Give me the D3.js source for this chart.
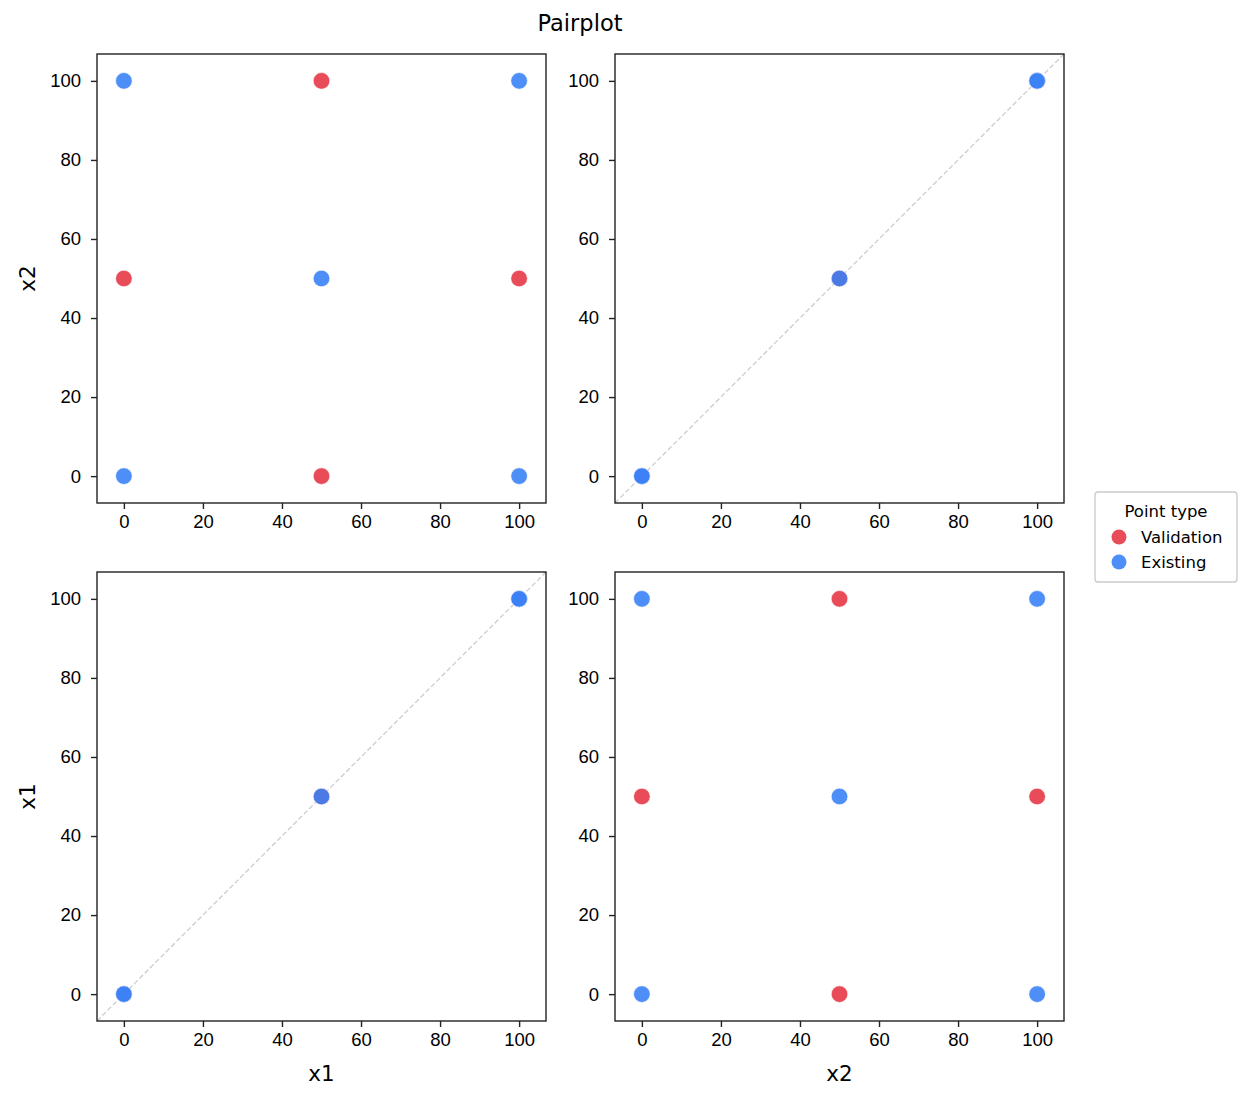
<!DOCTYPE html>
<html>
<head>
<meta charset="utf-8">
<script src="https://cdn.jsdelivr.net/npm/d3@7"></script>
<style>
body { margin: 0; background: #fff; }
svg { font-family: "DejaVu Sans", sans-serif; }
.axis text { font-size: 18.5px; fill: #000; }
.axis path, .axis line { stroke: #222; stroke-width: 1.4; }
</style>
</head>
<body>
<div id="chart"></div>
<script>
// data: the two variables of each point, split by point type
var variables = ["x1", "x2"];
var validationX1 = [50, 0, 100, 50],
    validationX2 = [100, 50, 50, 0];
var existingX1 = [0, 100, 50, 0, 100],
    existingX2 = [100, 100, 50, 0, 0];
var tickValues = [0, 20, 40, 60, 80, 100];
var types = ["Validation", "Existing"];
var colors = {Validation: "#e63946", Existing: "#3b82f6"};

// one row per point, validation first so existing points sit on top
var points = [];
validationX1.forEach(function(d, i){ points.push({x1: d, x2: validationX2[i], type: "Validation"}); });
existingX1.forEach(function(d, i){ points.push({x1: d, x2: existingX2[i], type: "Existing"}); });

var W = 1251, H = 1101;
var svg = d3.select("#chart").append("svg").attr("width", W).attr("height", H);

var cellW = 449, cellH = 449;
var colLeft = [97, 615], rowTop = [54, 572];
// rows: top row is x2, bottom row is x1 ; columns x1, x2
var rowVars = ["x2", "x1"], colVars = ["x1", "x2"];

var domain = [-6.8, 106.8];
var sx = d3.scaleLinear().domain(domain).range([0, cellW]);
var sy = d3.scaleLinear().domain(domain).range([cellH, 0]);

rowVars.forEach(function(rv, r){
    colVars.forEach(function(cv, c){
        var g = svg.append("g").attr("transform", "translate(" + colLeft[c] + "," + rowTop[r] + ")");

        if (rv === cv) {
            g.append("line")
                .attr("x1", sx(domain[0])).attr("y1", sy(domain[0]))
                .attr("x2", sx(domain[1])).attr("y2", sy(domain[1]))
                .attr("stroke", "#c8c8c8").attr("stroke-width", 1.2)
                .attr("stroke-dasharray", "5,2.5");
        }

        g.selectAll(".pt").data(points).enter().append("circle")
            .attr("class", "pt")
            .attr("cx", function(d){ return sx(d[cv]); })
            .attr("cy", function(d){ return sy(d[rv]); })
            .attr("r", 8.3)
            .attr("fill", function(d){ return colors[d.type]; })
            .attr("fill-opacity", 0.9)
            .attr("stroke", "#fff").attr("stroke-width", 0.6);

        var ax = d3.axisBottom(sx).tickValues(tickValues).tickSizeInner(6).tickSizeOuter(0).tickPadding(6);
        var ay = d3.axisLeft(sy).tickValues(tickValues).tickSizeInner(6).tickSizeOuter(0).tickPadding(10);
        g.append("g").attr("class", "axis").attr("transform", "translate(0," + cellH + ")").call(ax);
        g.append("g").attr("class", "axis").call(ay);
        g.selectAll(".axis .domain").remove();

        g.append("rect").attr("width", cellW).attr("height", cellH)
            .attr("fill", "none").attr("stroke", "#222").attr("stroke-width", 1.4);

        if (c === 0) {
            svg.append("text")
                .attr("transform", "translate(27," + (rowTop[r] + cellH / 2) + ") rotate(-90)")
                .attr("text-anchor", "middle").attr("dy", "0.35em")
                .style("font-size", "21.5px").text(rv);
        }
        if (r === 1) {
            svg.append("text")
                .attr("x", colLeft[c] + cellW / 2).attr("y", 1081)
                .attr("text-anchor", "middle")
                .style("font-size", "21.5px").text(cv);
        }
    });
});

// title
svg.append("text").attr("x", 580).attr("y", 31).attr("text-anchor", "middle")
    .style("font-size", "22.5px").text("Pairplot");

// legend
var lg = svg.append("g").attr("transform", "translate(1095,492)");
lg.append("rect").attr("width", 142).attr("height", 90).attr("rx", 3)
    .attr("fill", "#fff").attr("stroke", "#cccccc").attr("stroke-width", 1.4);
lg.append("text").attr("x", 71).attr("y", 25).attr("text-anchor", "middle")
    .style("font-size", "16.5px").text("Point type");
types.forEach(function(t, i){
    lg.append("circle").attr("cx", 24).attr("cy", 45 + i * 25).attr("r", 7.5)
        .attr("fill", colors[t]).attr("fill-opacity", 0.9);
    lg.append("text").attr("x", 46).attr("y", 45 + i * 25).attr("dy", "0.35em")
        .style("font-size", "16.5px").text(t);
});
</script>
</body>
</html>
